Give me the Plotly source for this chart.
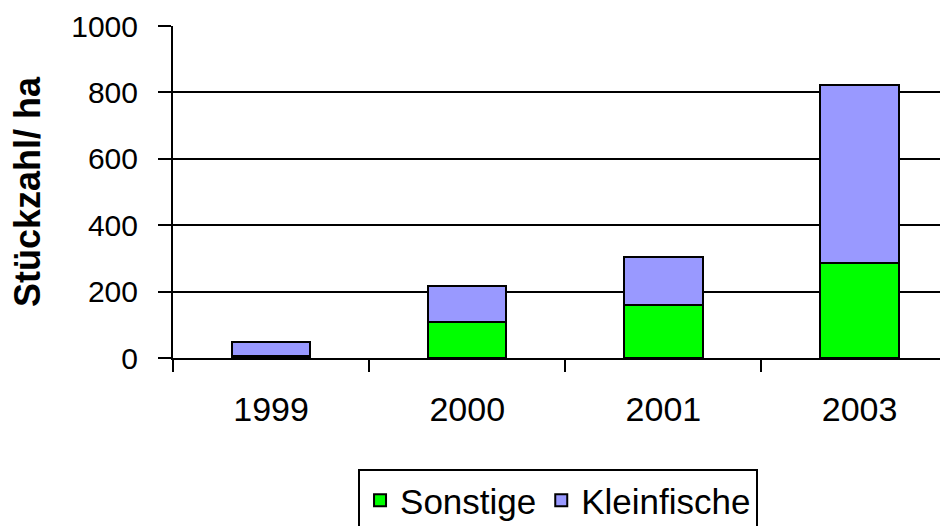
import plotly.graph_objects as go

years = ["1999", "2000", "2001", "2003"]
sonstige = [7, 109, 160, 287]
kleinfische = [41, 108, 144, 535]
y_ticks = [0, 200, 400, 600, 800, 1000]

FONT = "Liberation Sans, Arial, sans-serif"

fig = go.Figure()
fig.add_trace(go.Bar(name="Sonstige", x=years, y=sonstige,
                     marker=dict(color="#00FF00", line=dict(color="black", width=2))))
fig.add_trace(go.Bar(name="Kleinfische", x=years, y=kleinfische,
                     marker=dict(color="#9999FF", line=dict(color="black", width=2))))

fig.update_layout(
    barmode="stack",
    bargap=0.6,
    width=940, height=526,
    margin=dict(l=173, r=0, t=26, b=168, autoexpand=False),
    paper_bgcolor="white", plot_bgcolor="white",
    font=dict(family=FONT, color="black"),
    legend=dict(orientation="h", x=0.502, xanchor="center", y=-0.334, yanchor="top",
                bordercolor="black", borderwidth=2, font=dict(size=35),
                traceorder="normal"),
    showlegend=True,
)
fig.update_xaxes(
    type="category", tickson="boundaries", range=[-0.5, 3.41],
    showline=True, linecolor="black", linewidth=2,
    ticks="outside", ticklen=12, tickwidth=2, tickcolor="black",
    tickfont=dict(size=34, family=FONT), ticklabelstandoff=20,
    showgrid=False,
)
fig.update_yaxes(
    range=[0, 1000], tickvals=y_ticks,
    showline=True, linecolor="black", linewidth=2,
    ticks="outside", ticklen=13, tickwidth=2, tickcolor="black",
    tickfont=dict(size=30, family=FONT), ticklabelstandoff=14,
    showgrid=True, gridcolor="black", gridwidth=2, zeroline=False,
    title=dict(text="<b>Stückzahl/ ha</b>", font=dict(size=36, family=FONT), standoff=20),
)

fig.write_html("out.html", config={"displayModeBar": False},
               post_script="document.body.style.margin='0';document.body.style.overflow='hidden';")
